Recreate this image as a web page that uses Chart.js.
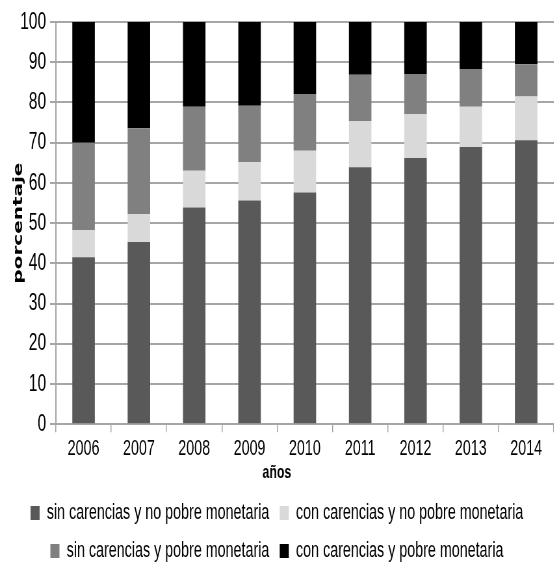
<!DOCTYPE html>
<html>
<head>
<meta charset="utf-8">
<script src="https://cdn.jsdelivr.net/npm/chart.js@4/dist/chart.umd.min.js"></script>
<style>
  html, body { margin: 0; padding: 0; background: #fff; overflow: hidden; }
  /* the original picture is squeezed sideways, so draw wide and squeeze */
  #wrap { width: 852px; height: 572px; transform: scaleX(0.65); transform-origin: 0 0; }
</style>
</head>
<body>
<div id="wrap"><canvas id="chart" width="852" height="572"></canvas></div>
<script>
const years = ['2006', '2007', '2008', '2009', '2010', '2011', '2012', '2013', '2014'];
const sinCarNoPobre = [41.5, 45.3, 53.9, 55.6, 57.6, 63.9, 66.2, 68.9, 70.6];
const conCarNoPobre = [6.8, 6.9, 9.1, 9.5, 10.4, 11.5, 10.9, 10.0, 10.9];
const sinCarPobre = [21.7, 21.4, 15.9, 14.1, 14.1, 11.5, 10.0, 9.4, 8.0];
const conCarPobre = [30.0, 26.4, 21.1, 20.8, 17.9, 13.1, 12.9, 11.7, 10.5];
const yTicks = [0, 10, 20, 30, 40, 50, 60, 70, 80, 90, 100];

const font = 'Liberation Sans';
const bar = (label, data, color) => ({ label, data, backgroundColor: color, borderWidth: 0, barPercentage: 0.407, categoryPercentage: 1 });

const ctx = document.getElementById('chart').getContext('2d');
new Chart(ctx, {
    type: 'bar',
    data: {
        labels: years,
        datasets: [
            bar('sin carencias y no pobre monetaria', sinCarNoPobre, '#595959'),
            bar('con carencias y no pobre monetaria', conCarNoPobre, '#d9d9d9'),
            bar('sin carencias y pobre monetaria', sinCarPobre, '#808080'),
            bar('con carencias y pobre monetaria', conCarPobre, '#000000')
        ]
    },
    options: {
        responsive: false,
        animation: false,
        layout: { padding: { top: 22, left: 0, right: 0, bottom: 0 } },
        plugins: {
            tooltip: { enabled: false },
            title: { display: true, text: 'años', position: 'bottom', weight: 500, color: '#000', padding: { top: 0, bottom: 2 }, font: { family: font, size: 19, weight: 'bold' } },
            legend: {
                position: 'bottom',
                labels: { color: '#000', boxWidth: 14, boxHeight: 14, padding: 16, font: { family: font, size: 22 } }
            }
        },
        scales: {
            x: {
                stacked: true,
                afterFit: (scale) => { scale.height = 37; },
                grid: { drawOnChartArea: false, drawTicks: true, tickLength: 8, color: '#a6a6a6', lineWidth: 1.5 },
                border: { color: '#a6a6a6', width: 2 },
                ticks: { color: '#000', padding: 6, font: { family: font, size: 22, lineHeight: 1 } }
            },
            y: {
                stacked: true,
                min: 0,
                max: 100,
                afterFit: (scale) => { scale.width = 86; },
                afterBuildTicks: (scale) => { scale.ticks = yTicks.map(v => ({ value: v })); },
                grid: { color: '#a6a6a6', lineWidth: 2, tickLength: 9 },
                border: { color: '#a6a6a6', width: 2 },
                ticks: { color: '#000', padding: 6, font: { family: font, size: 24 } },
                title: { display: true, text: 'porcentaje', color: '#000', padding: { top: 17, bottom: 0 }, font: { family: 'DejaVu Sans', size: 20, weight: 'bold' } }
            }
        }
    }
});
</script>
</body>
</html>
